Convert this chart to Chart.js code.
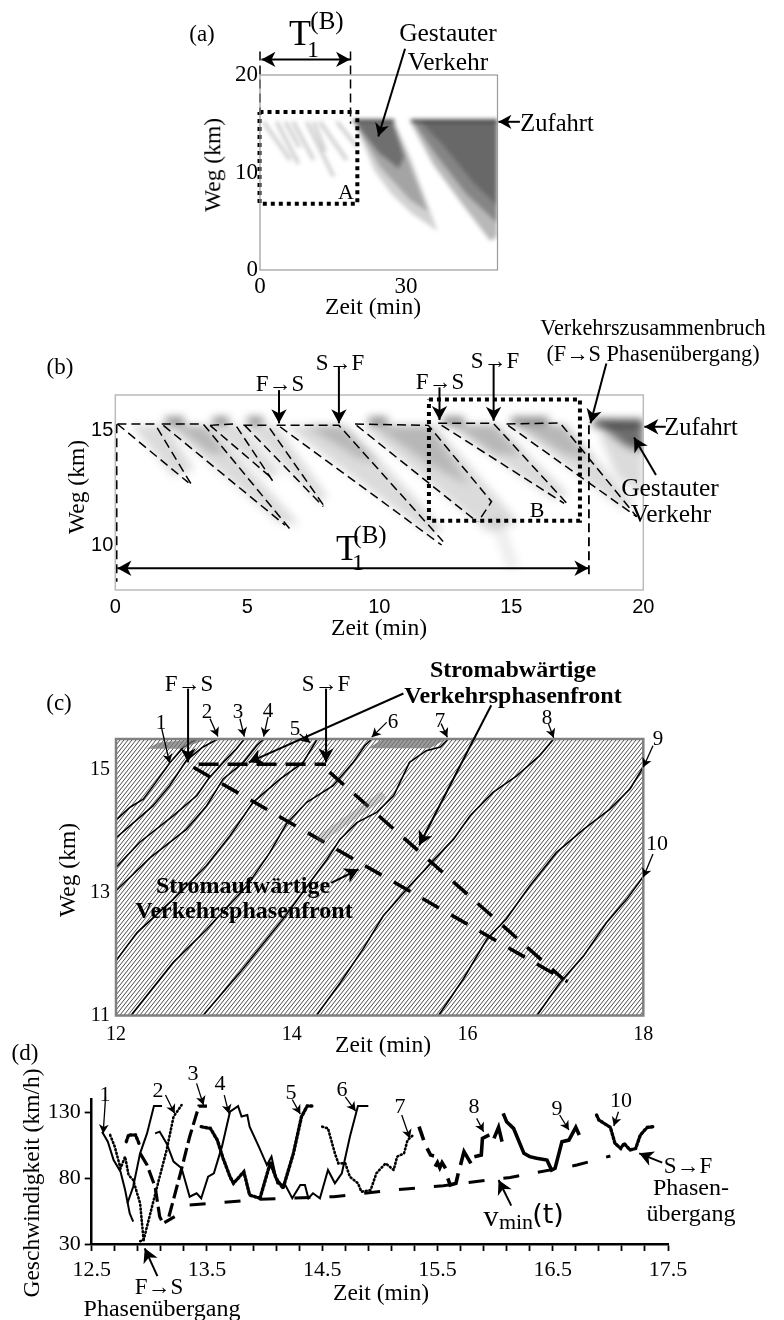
<!DOCTYPE html>
<html>
<head>
<meta charset="utf-8">
<script src="https://cdn.jsdelivr.net/npm/chart.js@4"></script>
<style>
html, body { margin: 0; background: #fff; }
#page { position: relative; width: 784px; height: 1320px; overflow: hidden; font-family: "Liberation Serif", serif; color: #000; }
canvas { position: absolute; left: 0; top: 0; }
.lbl { position: absolute; white-space: nowrap; transform: translate(-50%, -50%); line-height: 1; }
</style>
</head>
<body>
<div id="page">
  <canvas id="heatA" width="784" height="1320"></canvas>
  <canvas id="heatB" width="784" height="1320"></canvas>
  <canvas id="chartA" width="784" height="1320"></canvas>
  <canvas id="chartB" width="784" height="1320"></canvas>
  <canvas id="chartC" width="784" height="1320"></canvas>
  <canvas id="chartD" width="784" height="1320"></canvas>
</div>
<script>
// (a) tick labels, jam patches and overlays, km over min
var aXTicks = [0, 30];
var aYTicks = [0, 10, 20];
var aCloudFaint = [[19.5, 15], [27.6, 15.2], [31, 11.4], [36.5, 4], [31.2, 5.8], [27, 7.8], [23.5, 10.2]];
var aCloudOuter = [[19.2, 15.3], [27.4, 15.2], [30.2, 11.6], [34.5, 6], [30.8, 7.2], [24.7, 10.6]];
var aCloudInner = [[19.4, 15.2], [27.2, 15.2], [29.6, 11.6], [28.5, 10.4], [24.5, 12]];
var aWedgeFaint = [[30.8, 15.3], [48.8, 15.3], [48.8, 3.4], [47.3, 3], [41.8, 6.6], [35.6, 10.8]];
var aWedgeOuter = [[31.4, 15.3], [48.8, 15.3], [48.8, 4.8], [42.4, 7.8], [36.2, 11.8]];
var aWedgeInner = [[33, 15.2], [48.8, 15.2], [48.8, 6.6], [43.8, 9], [37.3, 13]];
var aStreaks = [
  [[0.7, 15.2], [6.2, 11.3]],
  [[3.4, 15.2], [7.9, 10.9]],
  [[5.2, 15.2], [8.1, 12.6]],
  [[6.8, 15.2], [11, 11.3]],
  [[9.6, 15.2], [15.1, 9.6]],
  [[11, 15.2], [13.4, 12.2]],
  [[12.3, 15.2], [17.8, 11.3]],
  [[15.8, 15.2], [19.9, 12.65]]
];
var aRampLeft = [[19.2, 15.3], [27.6, 15.3]];
var aRampRight = [[31, 15.3], [48.8, 15.3]];
var aBoxA = [[-0.1, 16.2], [20, 16.2], [20, 6.8], [-0.1, 6.8], [-0.1, 16.2]];
var aGuide1 = [[0, 22.4], [0, 16]];
var aGuide2 = [[18.6, 22.4], [18.6, 15]];
var aArrows = [[29.8, 22.7, 24.3, 13.7], [53.4, 15.2, 49, 15.2]];
var aSpan = [[0.3, 21.6, 18.5, 21.6]];

// (b)
var bXTicks = [0, 5, 10, 15, 20];
var bYTicks = [10, 15];
var bFronts = [
  [[0.08, 15.26], [1.5, 15.26], [2.93, 12.56]],
  [[0.08, 15.26], [2.77, 12.73]],
  [[1.76, 15.26], [3.33, 15.26], [6.62, 10.72]],
  [[1.82, 15.2], [6.43, 10.9]],
  [[3.59, 15.2], [4.53, 15.26], [5.98, 12.77]],
  [[3.59, 15.2], [5.86, 12.99]],
  [[4.85, 15.2], [5.77, 15.2], [7.94, 11.67]],
  [[4.9, 15.2], [7.88, 11.7]],
  [[6.11, 15.2], [8.47, 15.2], [12.42, 10.19]],
  [[6.24, 15.14], [12.36, 10.04]],
  [[9.08, 15.26], [11.86, 15.2], [14.25, 11.91], [13.75, 11.05]],
  [[9.14, 15.2], [13.7, 11.05]],
  [[12.23, 15.29], [14.32, 15.29], [17.16, 11.77]],
  [[12.36, 15.2], [17, 11.84]],
  [[14.82, 15.26], [16.85, 15.3], [19.75, 11.26]],
  [[14.88, 15.2], [19.75, 11.26]]
];
var bPatches = [
  [[0.6, 15.2], [1.9, 15.2], [3, 13.3], [2.2, 13]],
  [[1.9, 15.2], [3.6, 15.2], [7, 10.9], [6.2, 11]],
  [[3.6, 15.2], [4.7, 15.2], [6.3, 13.1], [5.8, 13]],
  [[4.9, 15.2], [6.1, 15.2], [8, 12.2], [7.8, 11.8]],
  [[6.4, 15.2], [8.8, 15.2], [12.4, 10.8], [12, 10.4]],
  [[9.3, 15.2], [12.1, 15.2], [15.3, 11], [14.1, 10.6]],
  [[12.5, 15.25], [14.5, 15.25], [17.2, 12.2], [16.6, 12]],
  [[15, 15.25], [17.1, 15.25], [19.7, 11.8], [19.2, 11.6]]
];
var bCores = [
  [[9.8, 15.2], [11.9, 15.2], [13.4, 12.6], [11.8, 13.6]],
  [[7.2, 15.2], [8.5, 15.2], [10, 13.6], [9.2, 13.8]],
  [[12.8, 15.25], [14.3, 15.25], [15.4, 13.9], [14.3, 14]],
  [[15.2, 15.25], [16.9, 15.25], [18, 13.7], [17, 14]],
  [[2.2, 15.2], [3.3, 15.2], [4.2, 14], [3.6, 14]]
];
var bTail = [[14.4, 11.2], [15.1, 9]];
var bBlobs = [
  [[1.9, 15.4], [2.6, 15.4]],
  [[3.7, 15.4], [4.3, 15.4]],
  [[5, 15.4], [5.6, 15.4]],
  [[9.6, 15.4], [10.3, 15.4]],
  [[12.4, 15.4], [13.2, 15.4]],
  [[15, 15.4], [16.4, 15.4]]
];
var bJam = [[18.1, 15.35], [20, 15.25], [20, 14.1], [19.4, 14.3]];
var bJamFaint = [[18.3, 14.9], [20, 14.6], [20, 12.2], [19, 13]];
var bJamTop = [[18.1, 15.3], [20, 15.3]];
var bBoxB = [[11.88, 16.32], [17.6, 16.32], [17.6, 11.09], [11.88, 11.09], [11.88, 16.32]];
var bGuide1 = [[0.05, 15.25], [0.05, 8.46]];
var bGuide2 = [[17.94, 15.2], [17.94, 8.56]];
var bArrows = [
  [6.2, 16.72, 6.2, 15.29], [8.47, 17.73, 8.47, 15.29], [12.28, 16.84, 12.28, 15.43], [14.33, 17.83, 14.33, 15.4],
  [18.6, 17.87, 18, 15.29], [20.85, 15.14, 20.04, 15.14], [20.48, 13.06, 19.65, 14.68]
];
var bSpan = [[0.08, 9.04, 17.92, 9.04]];

// (c)
var cXTicks = [12, 14, 16, 18];
var cYTicks = [11, 13, 15];
var cTrack1 = [[12, 14.18], [12.16, 14.39], [12.31, 14.52], [12.44, 14.77], [12.61, 15.11], [12.77, 15.37], [12.92, 15.5]];
var cTrack2 = [[12, 13.89], [12.2, 14.14], [12.42, 14.41], [12.61, 14.74], [12.8, 15.15], [12.99, 15.37], [13.16, 15.5]];
var cTrack3 = [[12, 13.41], [12.27, 13.82], [12.65, 14.25], [12.92, 14.58], [13.05, 14.85], [13.22, 15.12], [13.37, 15.34], [13.46, 15.5]];
var cTrack4 = [[12, 13.03], [12.39, 13.57], [12.8, 14.03], [13.03, 14.41], [13.22, 14.85], [13.45, 15.12], [13.6, 15.39], [13.68, 15.5]];
var cTrack5 = [[12, 11.89], [12.24, 12.35], [12.65, 12.89], [13.03, 13.44], [13.3, 13.93], [13.56, 14.47], [13.87, 14.85], [14.13, 15.12], [14.29, 15.5]];
var cTrack6 = [[12.17, 11], [12.65, 11.86], [13.03, 12.4], [13.49, 13.11], [13.75, 13.65], [13.94, 14.12], [14.17, 14.47], [14.47, 14.74], [14.7, 15.12], [14.83, 15.39], [14.91, 15.5]];
var cTrack7 = [[12.99, 11], [13.41, 11.7], [13.9, 12.57], [14.4, 13.54], [14.55, 13.87], [14.74, 14.14], [14.97, 14.31], [15.16, 14.58], [15.34, 15.12], [15.53, 15.31], [15.69, 15.37], [15.78, 15.5]];
var cTrack8 = [[14.28, 11], [14.55, 11.53], [14.81, 12.08], [15.04, 12.62], [15.31, 13.06], [15.57, 13.46], [15.84, 13.87], [16.03, 14.25], [16.29, 14.63], [16.56, 14.9], [16.82, 15.23], [16.98, 15.5]];
var cTrack9 = [[15.67, 11], [15.95, 11.59], [16.22, 12.24], [16.44, 12.57], [16.71, 13.11], [17.01, 13.65], [17.32, 14.03], [17.62, 14.36], [17.85, 14.69], [18, 15.04]];
var cTrack10 = [[16.79, 11], [17.05, 11.53], [17.32, 11.97], [17.58, 12.51], [17.81, 12.89], [18, 13.26]];
var cFrontTop = [[12.94, 15.09], [14.39, 15.09]];
var cFrontDown = [[14.43, 14.96], [17.09, 11.59]];
var cFrontUp = [[12.88, 15.04], [17.14, 11.55]];
var cPatch1 = [[12.35, 15.34], [12.48, 15.44], [12.92, 15.5], [13.05, 15.5], [12.73, 15.34]];
var cPatch2 = [[14.87, 15.35], [15.04, 15.5], [15.76, 15.5], [15.57, 15.35]];
var cBand = [[14.3, 13.85], [15.05, 14.6]];
var cArrowsThin = [
  [12.52, 15.67, 12.61, 15.11], [13.07, 15.83, 13.16, 15.54], [13.41, 15.83, 13.46, 15.54], [13.73, 15.86, 13.68, 15.54],
  [14.09, 15.58, 14.21, 15.44], [15.08, 15.77, 14.91, 15.53], [15.7, 15.75, 15.77, 15.53], [16.92, 15.75, 16.98, 15.52],
  [18.11, 15.39, 18, 15.04], [18.11, 13.63, 18, 13.25]
];
var cArrowsThick = [
  [12.82, 16.32, 12.82, 15.12], [14.39, 16.32, 14.39, 15.12], [15.27, 16.24, 13.51, 15.12],
  [16.27, 16.05, 15.45, 13.77], [14.45, 13.16, 14.76, 13.38]
];

// (d) speed traces
var dXTicks = [12.5, 12.7, 12.9, 13.1, 13.3, 13.5, 13.7, 13.9, 14.1, 14.3, 14.5, 14.7, 14.9, 15.1, 15.3, 15.5, 15.7, 15.9, 16.1, 16.3, 16.5, 16.7, 16.9, 17.1, 17.3, 17.5];
var dXLabels = [12.5, 13.5, 14.5, 15.5, 16.5, 17.5];
var dYTicks = [30, 80, 130];
var dFall1 = [[12.59, 115.5], [12.64, 107.9], [12.69, 93.9], [12.75, 85], [12.79, 71.1], [12.83, 53.3], [12.86, 47]];
var dRise1 = [[12.81, 61], [12.86, 73.6], [12.92, 99], [12.98, 114.2], [13.04, 135], [13.11, 135]];
var dTrace4 = [[13.05, 114.2], [13.09, 115.5], [13.15, 106.6], [13.21, 92.7], [13.28, 87.6], [13.35, 66], [13.41, 68.6], [13.45, 64.8], [13.51, 81.2], [13.56, 83.8], [13.63, 104.1], [13.7, 130.7], [13.77, 135], [13.8, 127], [13.85, 128.2], [13.87, 119.3], [13.95, 104.1], [14.02, 90.1], [14.06, 96.5], [14.11, 76.2], [14.18, 74.9], [14.24, 64.8], [14.31, 74.9], [14.35, 74.9], [14.38, 64.8], [14.42, 68.6], [14.48, 64.8], [14.55, 86.3], [14.61, 76.2], [14.67, 83.8], [14.74, 111.7], [14.81, 135], [14.9, 135]];
var dFall2 = [[12.66, 113], [12.7, 104.1], [12.75, 87.6], [12.79, 96.5], [12.82, 82.5], [12.86, 78.7], [12.92, 61], [12.95, 33], [12.91, 31.8]];
var dRise2 = [[12.95, 33], [13.06, 71.1], [13.15, 101.5], [13.21, 126.9], [13.28, 135.8]];
var dTop3 = [[12.8, 107.9], [12.82, 113], [12.88, 113], [12.91, 106.6]];
var dFall3 = [[12.92, 99], [12.98, 90.1], [13.05, 73.6], [13.09, 50.8], [13.12, 45.7], [13.22, 50.8]];
var dRise3 = [[13.17, 50.8], [13.27, 83.8], [13.35, 111.7], [13.43, 135], [13.5, 135]];
var dFall5 = [[13.45, 119.3], [13.53, 118], [13.59, 109.1], [13.64, 95.2], [13.7, 81.2], [13.73, 76.2], [13.82, 85], [13.87, 67.3], [13.96, 64.8]];
var dRise5 = [[13.96, 64.8], [14.05, 92], [14.1, 80], [14.16, 72.4], [14.25, 99], [14.32, 126.9], [14.37, 135], [14.41, 135]];
var dTrace7 = [[14.5, 119.3], [14.55, 118], [14.61, 99], [14.64, 91.4], [14.7, 91.4], [14.74, 81.2], [14.81, 76.2], [14.84, 69.8], [14.92, 71.1], [14.97, 83.8], [15.05, 91.4], [15.12, 86.3], [15.15, 96.5], [15.21, 99], [15.24, 109.1], [15.29, 113]];
var dBits8 = [
  [[15.34, 119.3], [15.38, 109.1]],
  [[15.41, 102.8], [15.44, 97.7], [15.47, 97]],
  [[15.48, 88.9], [15.5, 92], [15.52, 88], [15.54, 92], [15.57, 87.6]],
  [[15.59, 80], [15.61, 74.9], [15.66, 76.2], [15.68, 83.8]],
  [[15.7, 90.1], [15.73, 100.3], [15.79, 91.4]],
  [[15.82, 96.5], [15.88, 97.7], [15.89, 110.4], [15.95, 113]],
  [[15.99, 110.4], [16.03, 118.8], [16.06, 107.9]]
];
var dTrace9 = [[16.07, 129.4], [16.1, 123.1], [16.16, 118], [16.25, 99], [16.3, 96.5], [16.36, 95.2], [16.45, 93.9], [16.49, 86.3], [16.52, 87.6], [16.58, 107.9], [16.64, 109.1], [16.7, 118.8], [16.73, 113]];
var dTrace10 = [[16.88, 128.2], [16.9, 124.4], [17, 118.8], [17.04, 106.6], [17.09, 102.8], [17.12, 106.6], [17.17, 101.5], [17.22, 102.8], [17.26, 113], [17.32, 118.8], [17.37, 119.3]];
var dVmin = [[13.35, 59.7], [13.96, 64], [14.6, 66], [15.12, 71.1], [15.55, 74.4], [16.13, 80.7], [16.71, 90.1], [17, 97]];
var dArrows = [
  [12.62, 142.1, 12.6, 114.2], [13.14, 143.4, 13.22, 129.4], [13.41, 152.3, 13.47, 135.8], [13.65, 143.4, 13.69, 129.4],
  [14.24, 140, 14.31, 128.9], [14.7, 142, 14.79, 131.2], [15.19, 128.2, 15.26, 110.4], [15.84, 125.6, 15.9, 115.5],
  [16.56, 128.2, 16.64, 116.8], [17.07, 130.7, 17.03, 119.8]
];
var dArrowsBig = [[13.07, 5.6, 12.96, 26.7], [16.14, 59.2, 16.03, 78.7], [17.45, 91.9, 17.25, 99]];

var rectA = { left: 260, top: 75, right: 497.5, bottom: 270 };
var rectB = { left: 115.3, top: 395, right: 643.3, bottom: 590 };
var rectC = { left: 116, top: 739, right: 643.3, bottom: 1015.5 };
var rectD = { left: 91.7, top: 1099.5, right: 668, bottom: 1244 };
var axisWidth = 60;
var axisHeight = 40;

function path(points, style) {
  return Object.assign({
    showLine: true, pointRadius: 0, borderColor: '#000', borderWidth: 1.5, tension: 0, clip: false,
    data: points.map(function (p) { return { x: p[0], y: p[1] }; })
  }, style);
}

function patch(points, color) {
  return path(points, { fill: 'shape', backgroundColor: color, borderWidth: 0, borderColor: 'transparent', clip: true });
}

function axis(min, max, ticks, font, pad, extra, label) {
  var tickOpts = { font: font, color: '#000', padding: pad, autoSkip: false, maxRotation: 0 };
  if (label) tickOpts.callback = label;
  return Object.assign({
    type: 'linear', min: min, max: max,
    grid: { display: false, drawTicks: false },
    border: { display: false },
    ticks: tickOpts,
    afterBuildTicks: function (s) { s.ticks = ticks.map(function (v) { return { value: v }; }); },
    afterFit: function (s) {
      if (s.isHorizontal()) s.height = axisHeight; else s.width = axisWidth;
      s.paddingLeft = s.paddingRight = s.paddingTop = s.paddingBottom = 0;
    }
  }, extra);
}

// frame, hatch texture and arrows are drawn through the chart scales
var decorations = {
  id: 'decorations',
  beforeDatasetsDraw: function (chart, args, opts) {
    if (!opts.hatch) return;
    var a = chart.chartArea, ctx = chart.ctx;
    var tile = document.createElement('canvas');
    tile.width = 4; tile.height = 5;
    var t = tile.getContext('2d');
    t.strokeStyle = '#444'; t.lineWidth = 0.95;
    [-4, 0, 4].forEach(function (dx) {
      t.beginPath(); t.moveTo(dx, 5); t.lineTo(dx + 4, 0); t.stroke();
    });
    ctx.save();
    ctx.fillStyle = ctx.createPattern(tile, 'repeat');
    ctx.fillRect(a.left, a.top, a.width, a.height);
    ctx.restore();
  },
  afterDatasetsDraw: function (chart, args, opts) {
    var a = chart.chartArea, ctx = chart.ctx;
    if (opts.frame) {
      ctx.save();
      ctx.strokeStyle = opts.frame; ctx.lineWidth = opts.frameWidth;
      ctx.strokeRect(a.left, a.top, a.width, a.height);
      ctx.restore();
    }
    (opts.arrows || []).forEach(function (group) {
      group.items.forEach(function (r) {
        var x0 = chart.scales.x.getPixelForValue(r[0]), y0 = chart.scales.y.getPixelForValue(r[1]);
        var x1 = chart.scales.x.getPixelForValue(r[2]), y1 = chart.scales.y.getPixelForValue(r[3]);
        ctx.save();
        ctx.strokeStyle = ctx.fillStyle = '#000';
        ctx.lineWidth = group.width;
        ctx.beginPath(); ctx.moveTo(x0, y0); ctx.lineTo(x1, y1); ctx.stroke();
        arrowHead(ctx, x0, y0, x1, y1, group.head);
        if (group.both) arrowHead(ctx, x1, y1, x0, y0, group.head);
        ctx.restore();
      });
    });
  }
};

function arrowHead(ctx, x0, y0, x1, y1, size) {
  var ang = Math.atan2(y1 - y0, x1 - x0);
  ctx.save();
  ctx.translate(x1, y1); ctx.rotate(ang);
  ctx.beginPath();
  ctx.moveTo(0, 0);
  ctx.lineTo(-size, -size * 0.55);
  ctx.lineTo(-size * 0.72, 0);
  ctx.lineTo(-size, size * 0.55);
  ctx.closePath(); ctx.fill();
  ctx.restore();
}

function makeChart(id, pad, datasets, scales, deco) {
  return new Chart(document.getElementById(id), {
    type: 'scatter',
    data: { datasets: datasets },
    options: {
      responsive: false, animation: false,
      layout: { padding: pad },
      scales: scales,
      plugins: { legend: { display: false }, tooltip: { enabled: false }, decorations: deco || {} }
    },
    plugins: [decorations]
  });
}

function mainChart(id, r, datasets, scales, deco) {
  var pad = { left: r.left - axisWidth, top: r.top, right: 784 - r.right, bottom: 1320 - r.bottom - axisHeight };
  return makeChart(id, pad, datasets, scales, deco);
}

function heatLayer(id, r, xr, yr, datasets, blur) {
  var el = document.getElementById(id);
  var right = 784 - r.right, bottom = 1320 - r.bottom;
  el.style.filter = 'blur(' + blur + 'px)';
  el.style.clipPath = 'inset(' + r.top + 'px ' + right + 'px ' + bottom + 'px ' + r.left + 'px)';
  makeChart(id, { left: r.left, top: r.top, right: right, bottom: bottom }, datasets, {
    x: { type: 'linear', display: false, min: xr[0], max: xr[1] },
    y: { type: 'linear', display: false, min: yr[0], max: yr[1] }
  });
}

var serifTick = { family: 'Liberation Serif', size: 23 };
var serifSmall = { family: 'Liberation Serif', size: 20 };
var sansTick = { family: 'Liberation Sans', size: 20 };
var serifD = { family: 'Liberation Serif', size: 22 };

// panel (a)
heatLayer('heatA', rectA, [0, 48.8], [0, 20], [
  patch(aCloudFaint, 'rgba(0,0,0,0.18)'),
  patch(aCloudOuter, 'rgba(0,0,0,0.22)'),
  patch(aCloudInner, 'rgba(0,0,0,0.32)'),
  patch(aWedgeFaint, 'rgba(0,0,0,0.28)'),
  patch(aWedgeOuter, 'rgba(0,0,0,0.28)'),
  patch(aWedgeInner, 'rgba(0,0,0,0.22)')
].concat(aStreaks.map(function (s) {
  return path(s, { borderColor: 'rgba(0,0,0,0.24)', borderWidth: 3 });
})).concat([
  path(aRampLeft, { borderColor: 'rgba(0,0,0,0.8)', borderWidth: 2.5 }),
  path(aRampRight, { borderColor: 'rgba(0,0,0,0.8)', borderWidth: 2.5 })
]), 2);

mainChart('chartA', rectA, [
  path(aBoxA, { borderWidth: 4, borderDash: [4, 4] }),
  path(aGuide1, { borderWidth: 1.5, borderDash: [9, 5] }),
  path(aGuide2, { borderWidth: 1.5, borderDash: [9, 5] })
], {
  x: axis(0, 48.8, aXTicks, serifTick, 3),
  y: axis(0, 20, aYTicks, serifTick, 2)
}, { frame: '#999', frameWidth: 1.2, arrows: [
  { items: aArrows, width: 2, head: 13 },
  { items: aSpan, width: 2, head: 14, both: true }
] });

// panel (b)
heatLayer('heatB', rectB, [0, 20], [8.1, 16.51], bPatches.map(function (p) {
  return patch(p, 'rgba(0,0,0,0.14)');
}).concat(bCores.map(function (p) {
  return patch(p, 'rgba(0,0,0,0.17)');
})).concat(bBlobs.map(function (s) {
  return path(s, { borderColor: 'rgba(0,0,0,0.5)', borderWidth: 7 });
})).concat([
  path(bTail, { borderColor: 'rgba(0,0,0,0.07)', borderWidth: 12 }),
  patch(bJamFaint, 'rgba(0,0,0,0.14)'),
  patch(bJam, 'rgba(0,0,0,0.55)'),
  path(bJamTop, { borderColor: 'rgba(0,0,0,0.7)', borderWidth: 7 })
]), 4);

mainChart('chartB', rectB, bFronts.map(function (f) {
  return path(f, { borderWidth: 1.5, borderDash: [9, 5] });
}).concat([
  path(bBoxB, { borderWidth: 4, borderDash: [4, 4] }),
  path(bGuide1, { borderWidth: 1.8, borderDash: [9, 5] }),
  path(bGuide2, { borderWidth: 1.8, borderDash: [9, 5] })
]), {
  x: axis(0, 20, bXTicks, sansTick, 5),
  y: axis(8.1, 16.51, bYTicks, sansTick, 2)
}, { frame: '#bbb', frameWidth: 1.5, arrows: [
  { items: bArrows, width: 2, head: 14 },
  { items: bSpan, width: 2, head: 14, both: true }
] });

// panel (c)
var cTracks = [cTrack1, cTrack2, cTrack3, cTrack4, cTrack5, cTrack6, cTrack7, cTrack8, cTrack9, cTrack10];
mainChart('chartC', rectC, [
  patch(cPatch1, 'rgba(120,120,120,0.75)'),
  patch(cPatch2, 'rgba(120,120,120,0.75)'),
  path(cBand, { borderColor: 'rgba(120,120,120,0.3)', borderWidth: 8 })
].concat(cTracks.map(function (t) {
  return path(t, { borderWidth: 1.6 });
})).concat([
  path(cFrontTop, { borderWidth: 3.5, borderDash: [20, 9] }),
  path(cFrontDown, { borderWidth: 3.5, borderDash: [19, 14] }),
  path(cFrontUp, { borderWidth: 3.5, borderDash: [19, 14] })
]), {
  x: axis(12, 18, cXTicks, serifSmall, 7),
  y: axis(11, 15.5, cYTicks, serifSmall, 6)
}, { frame: '#808080', frameWidth: 2.5, hatch: true, arrows: [
  { items: cArrowsThin, width: 1.3, head: 9 },
  { items: cArrowsThick, width: 2, head: 14 }
] });

// panel (d)
var solidThin = { borderWidth: 2 };
var dotted = { borderWidth: 2.6, borderDash: [1, 2.8], borderCapStyle: 'round' };
var dottedHeavy = { borderWidth: 3.4, borderDash: [2, 2.2], borderCapStyle: 'round' };
var dashedHeavy = { borderWidth: 3.2, borderDash: [14, 5] };
var solidHeavy = { borderWidth: 3.6 };
var dAxisLine = {
  border: { display: true, color: '#000', width: 2.5 },
  grid: { drawOnChartArea: false, drawTicks: true, tickLength: 7, tickColor: '#000', tickWidth: 1.8 }
};

mainChart('chartD', rectD, [
  path(dFall1, solidThin), path(dRise1, solidThin), path(dTrace4, solidThin),
  path(dFall2, dotted), path(dRise2, dotted),
  path(dTop3, dottedHeavy), path(dFall3, dashedHeavy), path(dRise3, dashedHeavy),
  path(dFall5, dottedHeavy), path(dRise5, dottedHeavy),
  path(dTrace7, dotted),
  path(dTrace9, solidHeavy), path(dTrace10, dottedHeavy),
  path(dVmin, { borderWidth: 3, borderDash: [16, 19] })
].concat(dBits8.map(function (b) { return path(b, solidHeavy); })), {
  x: axis(12.5, 17.5, dXTicks, serifD, 6, dAxisLine, function (v) {
    return dXLabels.indexOf(Math.round(v * 10) / 10) >= 0 ? v.toFixed(1) : '';
  }),
  y: axis(30, 140, dYTicks, serifD, 4, dAxisLine)
}, { arrows: [
  { items: dArrows, width: 1.3, head: 9 },
  { items: dArrowsBig, width: 2, head: 14 }
] });

// every remaining text: [text, centre x, centre y, size, extras]
var texts = [
  ['(a)', 202, 33, 23],
  ['T', 300, 33, 36], ['1', 313, 49, 24], ['(B)', 327, 20, 25],
  ['Gestauter', 448, 33, 25.5], ['Verkehr', 448, 62, 25.5],
  ['Zufahrt', 557, 123, 24.5], ['A', 346, 192, 22],
  ['Weg (km)', 213, 165, 23.5, { rot: true }], ['Zeit (min)', 373, 307, 23.5],

  ['(b)', 60, 366, 23],
  ['F\u2192S', 280, 383, 23], ['S\u2192F', 340, 362, 23], ['F\u2192S', 440, 381, 23], ['S\u2192F', 495, 360, 23],
  ['Verkehrszusammenbruch', 653, 328, 22.3], ['(F\u2192S Phasen\u00fcbergang)', 653, 354, 22.3],
  ['Zufahrt', 701, 427, 24.5], ['Gestauter', 670, 488, 25.5], ['Verkehr', 671, 514, 25.5], ['B', 537, 510, 22],
  ['T', 347, 548, 36], ['1', 358, 562, 24], ['(B)', 370, 534, 25],
  ['Weg (km)', 77, 487, 23.5, { rot: true }], ['Zeit (min)', 379, 628, 23.5],

  ['(c)', 59, 702, 23],
  ['F\u2192S', 189, 683, 23], ['S\u2192F', 326, 683, 23],
  ['1', 161, 722, 21], ['2', 207, 711, 21], ['3', 238, 711, 21], ['4', 268, 710, 21], ['5', 295, 728, 21],
  ['6', 393, 721, 21], ['7', 440, 720, 21], ['8', 547, 717, 21], ['9', 658, 738, 21], ['10', 657, 843, 22],
  ['Stromabw\u00e4rtige', 513, 669, 24, { bold: true }], ['Verkehrsphasenfront', 513, 695, 24, { bold: true }],
  ['Stromaufw\u00e4rtige', 243, 885, 24, { bold: true }], ['Verkehrsphasenfront', 244, 910, 24, { bold: true }],
  ['Weg (km)', 68, 870, 23.5, { rot: true }], ['Zeit (min)', 383, 1045, 23.5],

  ['(d)', 25, 1052, 23],
  ['Geschwindigkeit (km/h)', 32, 1183, 23.5, { rot: true }],
  ['1', 105, 1094, 22], ['2', 158, 1090, 22], ['3', 193, 1073, 22], ['4', 220, 1083, 22], ['5', 291, 1092, 22],
  ['6', 342, 1089, 22], ['7', 400, 1106, 22], ['8', 474, 1106, 22], ['9', 557, 1108, 22], ['10', 621, 1100, 22],
  ['F\u2192S', 159, 1286, 23], ['Phasen\u00fcbergang', 162, 1308, 24],
  ['Zeit (min)', 381, 1293, 23.5],
  ['S\u2192F', 688, 1165, 23], ['Phasen-', 691, 1187, 24], ['\u00fcbergang', 691, 1213, 24],
  ['v', 491, 1216, 30], ['min', 516, 1222, 22], ['(t)', 548, 1213, 27, { sans: true }]
];

var page = document.getElementById('page');
texts.forEach(function (t) {
  var el = document.createElement('div');
  var o = t[4] || {};
  el.className = 'lbl';
  el.textContent = t[0];
  el.style.left = t[1] + 'px';
  el.style.top = t[2] + 'px';
  el.style.fontSize = t[3] + 'px';
  if (o.bold) el.style.fontWeight = 'bold';
  if (o.sans) el.style.fontFamily = '"DejaVu Sans", sans-serif';
  if (o.rot) el.style.transform = 'translate(-50%, -50%) rotate(-90deg)';
  page.appendChild(el);
});
</script>
</body>
</html>
